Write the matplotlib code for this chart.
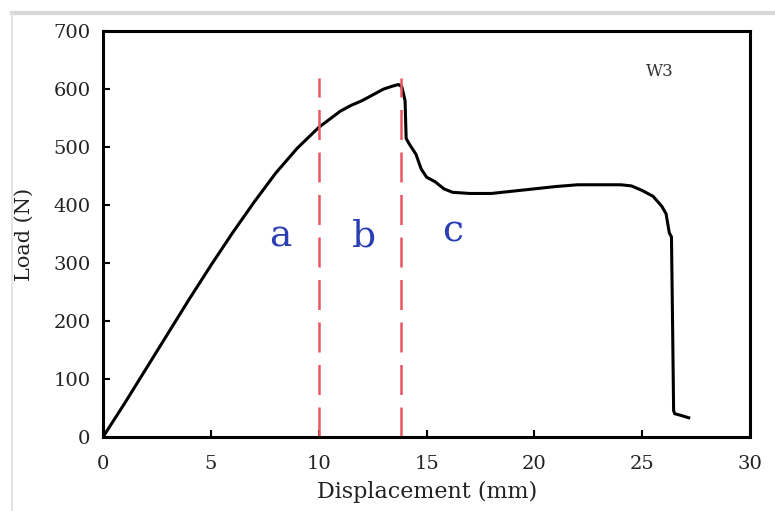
import matplotlib
matplotlib.use("Agg")
import matplotlib.pyplot as plt
from matplotlib.lines import Line2D

# load-displacement curve
disp = [0, 1, 2, 3, 4, 5, 6, 7, 8, 9, 10, 10.5, 11, 11.5, 12, 12.5, 13, 13.4, 13.7, 13.85,
        14.0, 14.05, 14.2, 14.5, 14.75, 15.0, 15.4, 15.8, 16.2, 17, 18, 18.5, 19, 20, 21,
        22, 23, 24, 24.5, 25, 25.5, 25.9, 26.1, 26.25, 26.35, 26.4, 26.45, 26.5, 26.8, 27.15]
load = [0, 58, 118, 178, 238, 296, 352, 405, 455, 498, 534, 548, 562, 572, 580, 590, 600,
        605, 608, 604, 580, 515, 505, 488, 462, 448, 440, 428, 422, 420, 420, 422, 424, 428,
        432, 435, 435, 435, 433, 425, 415, 398, 385, 352, 345, 200, 45, 40, 37, 33]

region_lines = [10, 13.8]
region_labels = ["a", "b", "c"]
label_x = [8.2, 12.1, 16.2]
label_y = [345, 345, 355]

serif = "DejaVu Serif"

fig = plt.figure(figsize=(7.75, 5.11), dpi=100)
ax = fig.add_axes([0.133, 0.145, 0.835, 0.794])

ax.plot(disp, load, color="black", lw=2.2)
for xv in region_lines:
    ax.plot([xv, xv], [0, 620], color="#ea5561", lw=1.8, dashes=(12, 5))
for lab, lx, ly in zip(region_labels, label_x, label_y):
    ax.text(lx, ly, lab, color="#2b3fb5", fontsize=27, family=serif,
            ha="center", va="center")
ax.text(25.8, 630, "W3", fontsize=12, family=serif, color="#333333",
        ha="center", va="center")

ax.set_xlim(0, 30)
ax.set_ylim(0, 700)
ax.set_xticks(range(0, 31, 5))
ax.set_yticks(range(0, 701, 100))
ax.tick_params(direction="in", length=5, width=1.5, labelsize=14, labelcolor="#222222")
ax.tick_params(axis="x", pad=13)
ax.tick_params(axis="y", pad=9)
for lbl in ax.get_xticklabels() + ax.get_yticklabels():
    lbl.set_family(serif)
for sp in ax.spines.values():
    sp.set_linewidth(2.2)
ax.set_xlabel("Displacement (mm)", fontsize=16, family=serif, labelpad=6, color="#222222")
ax.set_ylabel("Load (N)", fontsize=15, family=serif, labelpad=14, color="#222222")

# light frame around the figure
fig.add_artist(Line2D([0.015, 1], [0.975, 0.975], color="#d8d8d8", lw=3, transform=fig.transFigure))
fig.add_artist(Line2D([0.016, 0.016], [0, 0.975], color="#e4e4e4", lw=1.5, transform=fig.transFigure))

fig.savefig("out.png", dpi=100)
